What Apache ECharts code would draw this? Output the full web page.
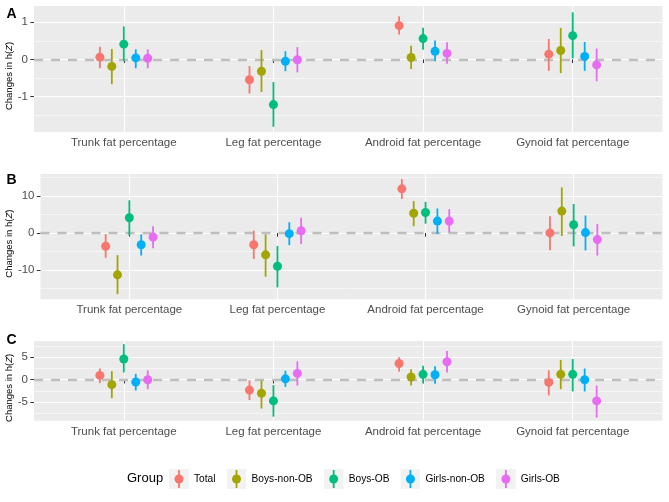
<!DOCTYPE html>
<html><head><meta charset="utf-8">
<script src="https://cdn.jsdelivr.net/npm/echarts@6/dist/echarts.min.js"></script>
<style>html,body{margin:0;padding:0;background:#fff}#c{width:669px;height:502px}</style>
</head><body><div id="c"></div>
<script>
const categories = ['Trunk fat percentage','Leg fat percentage','Android fat percentage','Gynoid fat percentage'];
const groups = ['Total','Boys-non-OB','Boys-OB','Girls-non-OB','Girls-OB'];
const colors = ['#F8766D','#A3A500','#00BF7D','#00B0F6','#E76BF3'];
const panelLabels = ['A','B','C'];

// rows = groups, columns = categories
const aEst  = [[0.06,-0.55,0.91,0.14],[-0.19,-0.32,0.05,0.24],[0.41,-1.22,0.56,0.64],[0.04,-0.05,0.22,0.08],[0.03,-0.01,0.16,-0.15]];
const aLow  = [[-0.24,-0.92,0.67,-0.31],[-0.67,-0.88,-0.26,-0.37],[-0.05,-1.82,0.26,0.03],[-0.24,-0.32,-0.05,-0.31],[-0.24,-0.35,-0.12,-0.59]];
const aHigh = [[0.34,-0.18,1.16,0.55],[0.28,0.25,0.37,0.85],[0.89,-0.61,0.85,1.27],[0.27,0.22,0.51,0.47],[0.27,0.33,0.46,0.29]];

const bEst  = [[-3.6,-3.2,11.9,0.0],[-11.3,-5.9,5.3,5.9],[4.1,-9.0,5.5,2.2],[-3.2,-0.2,3.2,0.1],[-1.1,0.6,3.2,-1.8]];
const bLow  = [[-6.7,-7.0,9.2,-4.7],[-16.5,-11.8,1.8,-0.8],[-0.7,-14.7,2.5,-3.6],[-6.1,-3.3,-0.3,-4.7],[-4.1,-3.0,0.1,-6.1]];
const bHigh = [[-0.3,0.6,14.5,4.5],[-6.0,-0.4,8.6,12.3],[8.8,-3.5,8.4,7.8],[-0.4,2.9,6.6,4.7],[1.8,4.1,6.4,2.4]];

const cEst  = [[0.96,-2.3,3.6,-0.6],[-1.1,-3.0,0.6,1.2],[4.6,-4.7,1.2,1.2],[-0.5,0.2,1.1,0.0],[0.0,1.4,4.0,-4.7]];
const cLow  = [[-0.74,-4.5,1.8,-3.5],[-4.1,-6.4,-1.3,-2.1],[1.6,-8.2,-0.8,-2.6],[-2.4,-1.6,-0.9,-2.6],[-2.1,-1.3,1.6,-8.4]];
const cHigh = [[2.5,-0.15,5.0,2.1],[1.9,-0.2,2.3,4.4],[7.9,-1.2,3.1,4.6],[1.3,2.0,3.0,2.5],[2.1,4.1,6.4,-1.3]];

const aTicks = [-1,0,1],   aMinor = [-1.5,-0.5,0.5],   aRange = [-1.96,1.44];
const bTicks = [-10,0,10], bMinor = [-15,-5,5,15],     bRange = [-17.9,15.9];
const cTicks = [-5,0,5],   cMinor = [-7.5,-2.5,2.5,7.5], cRange = [-9.1,8.6];

const panels = [
  {est:aEst, low:aLow, high:aHigh, ticks:aTicks, minor:aMinor, range:aRange},
  {est:bEst, low:bLow, high:bHigh, ticks:bTicks, minor:bMinor, range:bRange},
  {est:cEst, low:cLow, high:cHigh, ticks:cTicks, minor:cMinor, range:cRange}
];
// layout (pixels)
const gridBoxes = [
  {left:34, right:6.5, top:6, height:126, nameGap:20},
  {left:40.5, right:6.5, top:174, height:125.3, nameGap:26.5},
  {left:34, right:6.5, top:341, height:79.7, nameGap:20}
];
const titleTops = [7.5, 173, 333];
const dodge = [-0.16,-0.08,0,0.08,0.16];
const FONT = '"Liberation Sans", Arial, sans-serif';
const catPos = categories.map((c,i)=>i+1);

function keyIcon(c){
  const svg = `<svg xmlns="http://www.w3.org/2000/svg" width="20" height="20"><rect width="20" height="20" fill="#F2F2F2"/><line x1="10" y1="1" x2="10" y2="19" stroke="${c}" stroke-width="1.8"/><circle cx="10" cy="10" r="4.5" fill="${c}"/></svg>`;
  return 'image://data:image/svg+xml;charset=utf-8,' + encodeURIComponent(svg);
}

const grid = [], xAxis = [], yAxis = [], series = [], title = [];
panels.forEach((p, pi) => {
  const gb = gridBoxes[pi];
  grid.push({left:gb.left, right:gb.right, top:gb.top, height:gb.height, show:true, backgroundColor:'#EBEBEB', borderWidth:0,
    containLabel:false, outerBoundsMode:'none'});
  xAxis.push({
    gridIndex:pi, type:'value', min:0.4, max:4.6,
    axisLine:{show:false},
    axisTick:{show:true, customValues:catPos, length:3.7, lineStyle:{color:'#333333', width:1}},
    axisLabel:{customValues:catPos, formatter:v=>categories[Math.round(v)-1], margin:5, fontSize:11.5, color:'#4D4D4D', fontFamily:FONT},
    splitLine:{show:true, lineStyle:{color:'#FFFFFF', width:1.1}}
  });
  yAxis.push({
    gridIndex:pi, type:'value', min:p.range[0], max:p.range[1], position:'left',
    axisLine:{show:false},
    axisTick:{show:true, customValues:p.ticks, length:3.7, lineStyle:{color:'#333333', width:1}},
    axisLabel:{customValues:p.ticks, margin:6, fontSize:11.5, color:'#4D4D4D', fontFamily:FONT},
    splitLine:{show:true, lineStyle:{color:'#FFFFFF', width:1.1}},
    name:'Changes in h({i|Z})', nameLocation:'middle', nameRotate:90, nameGap:gb.nameGap,
    nameMoveOverlap:false,
    nameTextStyle:{fontSize:9.5, color:'#000', fontFamily:FONT, padding:[0,14,0,0],
      rich:{i:{fontSize:9.5, fontStyle:'italic', color:'#000', fontFamily:FONT}}}
  });
  yAxis.push({
    gridIndex:pi, type:'value', min:p.range[0], max:p.range[1], position:'left', offset:0,
    axisLine:{show:false}, axisLabel:{show:false},
    axisTick:{show:false, customValues:p.minor},
    splitLine:{show:true, lineStyle:{color:'#FFFFFF', width:0.55}}
  });
  title.push({text:panelLabels[pi], left:6.5, top:titleTops[pi], padding:0,
    textStyle:{fontSize:14, fontWeight:'bold', color:'#000', fontFamily:FONT}});
  // zero reference line
  series.push({
    type:'line', data:[], xAxisIndex:pi, yAxisIndex:pi*2, z:1, silent:true,
    markLine:{symbol:'none', silent:true, z:1, label:{show:false}, animation:false,
      lineStyle:{type:[9,8], color:'#BEBEBE', width:2.3}, emphasis:{disabled:true},
      data:[{yAxis:0}]}
  });
  groups.forEach((g, gi) => {
    series.push({
      type:'custom', name:g, xAxisIndex:pi, yAxisIndex:pi*2, z:8, silent:true,
      data: categories.map((c,ci)=>[ci+1+dodge[gi], p.low[gi][ci], p.high[gi][ci]]),
      encode:{x:0, y:[1,2]},
      renderItem:(params, api)=>{
        const x = api.value(0);
        const p1 = api.coord([x, api.value(1)]);
        const p2 = api.coord([x, api.value(2)]);
        return {type:'line', shape:{x1:p1[0], y1:p1[1], x2:p2[0], y2:p2[1]},
          style:{stroke:colors[gi], lineWidth:1.8}};
      }
    });
    series.push({
      type:'scatter', name:g, xAxisIndex:pi, yAxisIndex:pi*2, z:10, silent:true,
      symbol:'circle', symbolSize:9, itemStyle:{color:colors[gi], opacity:1},
      data: categories.map((c,ci)=>[ci+1+dodge[gi], p.est[gi][ci]])
    });
  });
});
title.push({text:'Group', left:127, top:472, padding:0,
  textStyle:{fontSize:13, fontWeight:'normal', color:'#000', fontFamily:FONT}});

const chart = echarts.init(document.getElementById('c'), null, {renderer:'canvas'});
chart.setOption({
  animation:false,
  backgroundColor:'#FFFFFF',
  title, grid, xAxis, yAxis, series,
  legend:{
    data: groups.map((g,i)=>({name:g, icon:keyIcon(colors[i])})),
    left:169, top:469, padding:0, itemWidth:20, itemHeight:20, itemGap:11,
    selectedMode:false,
    textStyle:{fontSize:10.2, color:'#000', fontFamily:FONT}
  }
});
</script></body></html>
